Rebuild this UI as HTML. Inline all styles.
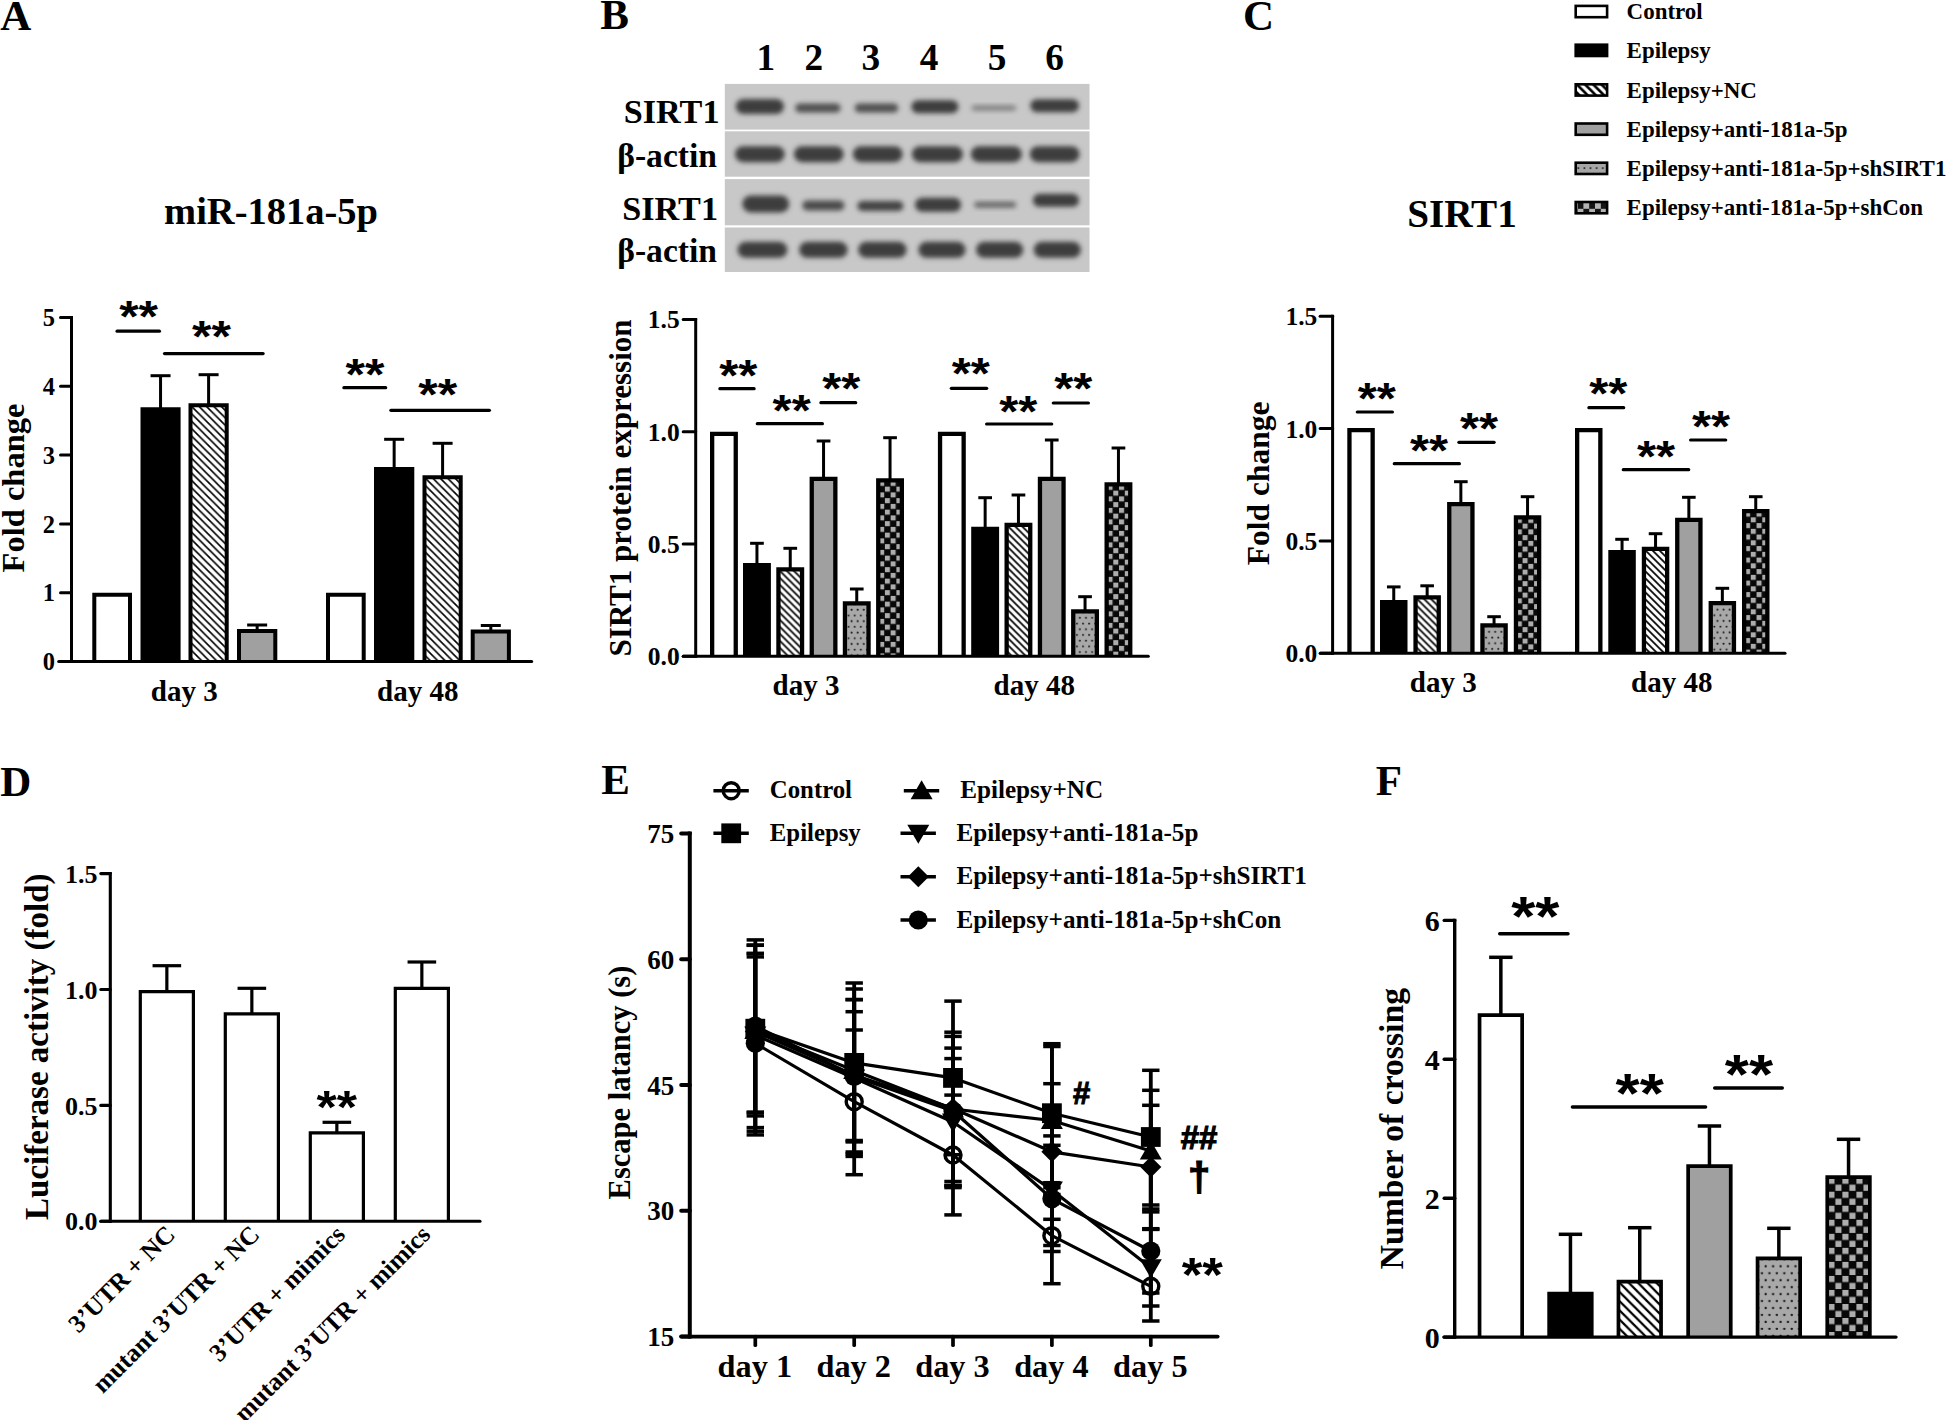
<!DOCTYPE html>
<html lang="en"><head><meta charset="utf-8"><title>Figure</title>
<style>html,body{margin:0;padding:0;background:#fff}svg{display:block}.sf{font-family:"Liberation Serif", "Times New Roman", Times, serif;font-weight:bold;fill:#000}.ss{font-family:"Liberation Sans", Arial, Helvetica, sans-serif;font-weight:bold;fill:#000}</style></head><body>
<svg width="1946" height="1420" viewBox="0 0 1946 1420">
<defs>
<pattern id="hL" width="8.2" height="8.2" patternUnits="userSpaceOnUse"><rect width="8.2" height="8.2" fill="#fff"/><path d="M-8.2 -8.2 L16.4 16.4 M0 -8.2 L16.4 8.2 M-8.2 0 L8.2 16.4" stroke="#000" stroke-width="2.6"/></pattern>
<pattern id="dB" width="6.1" height="11.4" patternUnits="userSpaceOnUse"><rect width="6.1" height="11.4" fill="#a6a6a6"/><circle cx="1.525" cy="2.85" r="1.05" fill="#222"/><circle cx="4.574999999999999" cy="8.55" r="1.05" fill="#222"/></pattern>
<pattern id="cB" width="11.6" height="11.6" patternUnits="userSpaceOnUse"><rect width="11.6" height="11.6" fill="#141414"/><rect x="0" y="0" width="5.8" height="5.8" fill="#b4b4b4"/><rect x="5.8" y="5.8" width="5.8" height="5.8" fill="#b4b4b4"/></pattern>
<filter id="bl" x="-20%" y="-60%" width="140%" height="220%"><feGaussianBlur stdDeviation="2.5"/></filter>
<filter id="bl2" x="-20%" y="-80%" width="140%" height="260%"><feGaussianBlur stdDeviation="1.8"/></filter>
</defs>
<rect width="1946" height="1420" fill="#fff"/>
<text class="sf" x="0.3" y="29.8" font-size="43" text-anchor="start">A</text>
<text class="sf" x="600.3" y="28.8" font-size="43" text-anchor="start">B</text>
<text class="sf" x="1243" y="29.7" font-size="43" text-anchor="start">C</text>
<text class="sf" x="0.3" y="795.8" font-size="43" text-anchor="start">D</text>
<text class="sf" x="601.3" y="793.8" font-size="43" text-anchor="start">E</text>
<text class="sf" x="1375.7" y="794.8" font-size="43" text-anchor="start">F</text>
<g id="panelA">
<text class="sf" x="271" y="223.9" font-size="38.5" text-anchor="middle">miR-181a-5p</text>
<path d="M94.3 661.5V594.8H130V661.5" fill="#fff" stroke="#000" stroke-width="4" stroke-linejoin="miter"/>
<line x1="160.55" y1="375.7" x2="160.55" y2="410.3" stroke="#000" stroke-width="3" stroke-linecap="butt"/>
<line x1="150.55" y1="375.7" x2="170.55" y2="375.7" stroke="#000" stroke-width="3" stroke-linecap="butt"/>
<path d="M142.5 661.5V409.3H178.6V661.5" fill="#000" stroke="#000" stroke-width="4" stroke-linejoin="miter"/>
<line x1="208.6" y1="374.7" x2="208.6" y2="406.3" stroke="#000" stroke-width="3" stroke-linecap="butt"/>
<line x1="198.6" y1="374.7" x2="218.6" y2="374.7" stroke="#000" stroke-width="3" stroke-linecap="butt"/>
<defs><pattern id="p1" x="190.5" y="405.3" width="7.4" height="7.4" patternUnits="userSpaceOnUse"><rect width="7.4" height="7.4" fill="#fff"/><path d="M-7.4 -7.4 L14.8 14.8 M0 -7.4 L14.8 7.4 M-7.4 0 L7.4 14.8" stroke="#000" stroke-width="1.6"/></pattern></defs>
<path d="M190.5 661.5V405.3H226.7V661.5" fill="url(#p1)" stroke="#000" stroke-width="4" stroke-linejoin="miter"/>
<line x1="257.15" y1="625" x2="257.15" y2="632" stroke="#000" stroke-width="3" stroke-linecap="butt"/>
<line x1="247.15" y1="625" x2="267.15" y2="625" stroke="#000" stroke-width="3" stroke-linecap="butt"/>
<path d="M239 661.5V631H275.3V661.5" fill="#a0a0a0" stroke="#000" stroke-width="4" stroke-linejoin="miter"/>
<path d="M328 661.5V594.8H363.7V661.5" fill="#fff" stroke="#000" stroke-width="4" stroke-linejoin="miter"/>
<line x1="394.15" y1="439.3" x2="394.15" y2="470" stroke="#000" stroke-width="3" stroke-linecap="butt"/>
<line x1="384.15" y1="439.3" x2="404.15" y2="439.3" stroke="#000" stroke-width="3" stroke-linecap="butt"/>
<path d="M376 661.5V469H412.3V661.5" fill="#000" stroke="#000" stroke-width="4" stroke-linejoin="miter"/>
<line x1="442.6" y1="443.3" x2="442.6" y2="478.3" stroke="#000" stroke-width="3" stroke-linecap="butt"/>
<line x1="432.6" y1="443.3" x2="452.6" y2="443.3" stroke="#000" stroke-width="3" stroke-linecap="butt"/>
<defs><pattern id="p2" x="424.5" y="477.3" width="7.4" height="7.4" patternUnits="userSpaceOnUse"><rect width="7.4" height="7.4" fill="#fff"/><path d="M-7.4 -7.4 L14.8 14.8 M0 -7.4 L14.8 7.4 M-7.4 0 L7.4 14.8" stroke="#000" stroke-width="1.6"/></pattern></defs>
<path d="M424.5 661.5V477.3H460.7V661.5" fill="url(#p2)" stroke="#000" stroke-width="4" stroke-linejoin="miter"/>
<line x1="490.8" y1="625.5" x2="490.8" y2="632.5" stroke="#000" stroke-width="3" stroke-linecap="butt"/>
<line x1="480.8" y1="625.5" x2="500.8" y2="625.5" stroke="#000" stroke-width="3" stroke-linecap="butt"/>
<path d="M472.7 661.5V631.5H508.9V661.5" fill="#a0a0a0" stroke="#000" stroke-width="4" stroke-linejoin="miter"/>
<line x1="58.7" y1="661.5" x2="531.7" y2="661.5" stroke="#000" stroke-width="3" stroke-linecap="round"/>
<line x1="71.5" y1="316" x2="71.5" y2="663" stroke="#000" stroke-width="3" stroke-linecap="butt"/>
<line x1="60.5" y1="661.5" x2="71.5" y2="661.5" stroke="#000" stroke-width="3" stroke-linecap="round"/>
<text class="sf" x="55" y="670.18" font-size="24.5" text-anchor="end">0</text>
<line x1="60.5" y1="592.7" x2="71.5" y2="592.7" stroke="#000" stroke-width="3" stroke-linecap="round"/>
<text class="sf" x="55" y="601.38" font-size="24.5" text-anchor="end">1</text>
<line x1="60.5" y1="523.9" x2="71.5" y2="523.9" stroke="#000" stroke-width="3" stroke-linecap="round"/>
<text class="sf" x="55" y="532.58" font-size="24.5" text-anchor="end">2</text>
<line x1="60.5" y1="455.1" x2="71.5" y2="455.1" stroke="#000" stroke-width="3" stroke-linecap="round"/>
<text class="sf" x="55" y="463.79" font-size="24.5" text-anchor="end">3</text>
<line x1="60.5" y1="386.3" x2="71.5" y2="386.3" stroke="#000" stroke-width="3" stroke-linecap="round"/>
<text class="sf" x="55" y="394.99" font-size="24.5" text-anchor="end">4</text>
<line x1="60.5" y1="317.5" x2="71.5" y2="317.5" stroke="#000" stroke-width="3" stroke-linecap="round"/>
<text class="sf" x="55" y="326.19" font-size="24.5" text-anchor="end">5</text>
<line x1="117.1" y1="331.2" x2="159.4" y2="331.2" stroke="#000" stroke-width="3.2" stroke-linecap="round"/>
<text class="ss" x="138.6" y="332.43" font-size="50" text-anchor="middle" transform="matrix(1 0 0 0.9 0 33.24)">**</text>
<line x1="164.5" y1="353.6" x2="263.1" y2="353.6" stroke="#000" stroke-width="3.2" stroke-linecap="round"/>
<text class="ss" x="211.5" y="352.23" font-size="50" text-anchor="middle" transform="matrix(1 0 0 0.9 0 35.22)">**</text>
<line x1="343.9" y1="387.7" x2="385.7" y2="387.7" stroke="#000" stroke-width="3.2" stroke-linecap="round"/>
<text class="ss" x="365" y="389.62" font-size="50" text-anchor="middle" transform="matrix(1 0 0 0.9 0 38.96)">**</text>
<line x1="390.9" y1="410.3" x2="489.4" y2="410.3" stroke="#000" stroke-width="3.2" stroke-linecap="round"/>
<text class="ss" x="437.7" y="409.62" font-size="50" text-anchor="middle" transform="matrix(1 0 0 0.9 0 40.96)">**</text>
<text class="sf" x="184.3" y="701" font-size="29" text-anchor="middle">day 3</text>
<text class="sf" x="417.7" y="701" font-size="29" text-anchor="middle">day 48</text>
<text class="sf" x="23.5" y="488" font-size="32.5" text-anchor="middle" transform="rotate(-90 23.5 488)">Fold change</text>
</g>
<g id="blot">
<rect x="724.8" y="83.9" width="364.7" height="45.7" fill="#c8c8c8"/>
<rect x="724.8" y="131.3" width="364.7" height="45.4" fill="#c8c8c8"/>
<rect x="724.8" y="179.1" width="364.7" height="46.2" fill="#c8c8c8"/>
<rect x="724.8" y="227.5" width="364.7" height="44.5" fill="#c8c8c8"/>
<clipPath id="c1"><rect x="724.8" y="83.9" width="364.7" height="45.7"/></clipPath>
<clipPath id="c2"><rect x="724.8" y="131.3" width="364.7" height="45.4"/></clipPath>
<clipPath id="c3"><rect x="724.8" y="179.1" width="364.7" height="46.2"/></clipPath>
<clipPath id="c4"><rect x="724.8" y="227.5" width="364.7" height="44.5"/></clipPath>
<g clip-path="url(#c1)">
<rect x="735.74" y="98.98" width="48.22" height="15" rx="7.5" ry="7.5" fill="#3e3e3e" opacity="1" filter="url(#bl)"/>
<rect x="795.23" y="103.55" width="45.34" height="9" rx="4.5" ry="4.5" fill="#484848" opacity="0.95" filter="url(#bl)"/>
<rect x="854.72" y="103.55" width="43.5" height="9" rx="4.5" ry="4.5" fill="#484848" opacity="0.95" filter="url(#bl)"/>
<rect x="911.32" y="100.24" width="47.17" height="13" rx="6.5" ry="6.5" fill="#3e3e3e" opacity="1" filter="url(#bl)"/>
<rect x="971.59" y="105.3" width="44.55" height="5.5" rx="2.75" ry="2.75" fill="#707070" opacity="0.8" filter="url(#bl)"/>
<rect x="1030.29" y="99.19" width="48.74" height="13" rx="6.5" ry="6.5" fill="#3e3e3e" opacity="1" filter="url(#bl)"/>
</g><g clip-path="url(#c2)">
<rect x="734.96" y="146.17" width="49.79" height="16" rx="8" ry="8" fill="#3e3e3e" opacity="1" filter="url(#bl)"/>
<rect x="793.92" y="146.17" width="49.79" height="16" rx="8" ry="8" fill="#3e3e3e" opacity="1" filter="url(#bl)"/>
<rect x="852.88" y="146.17" width="49.79" height="16" rx="8" ry="8" fill="#3e3e3e" opacity="1" filter="url(#bl)"/>
<rect x="911.84" y="146.17" width="51.1" height="16" rx="8" ry="8" fill="#3e3e3e" opacity="1" filter="url(#bl)"/>
<rect x="970.81" y="146.17" width="51.1" height="16" rx="8" ry="8" fill="#3e3e3e" opacity="1" filter="url(#bl)"/>
<rect x="1029.77" y="146.17" width="49.79" height="16" rx="8" ry="8" fill="#3e3e3e" opacity="1" filter="url(#bl)"/>
</g><g clip-path="url(#c3)">
<rect x="742.3" y="195.46" width="46.91" height="17" rx="8.5" ry="8.5" fill="#3e3e3e" opacity="1" filter="url(#bl)"/>
<rect x="802.31" y="200.53" width="42.19" height="10" rx="5" ry="5" fill="#444" opacity="0.95" filter="url(#bl)"/>
<rect x="857.34" y="201.06" width="46.12" height="10" rx="5" ry="5" fill="#3c3c3c" opacity="0.95" filter="url(#bl)"/>
<rect x="914.99" y="197.75" width="46.12" height="14" rx="7" ry="7" fill="#3e3e3e" opacity="1" filter="url(#bl)"/>
<rect x="974.21" y="201.75" width="41.93" height="6" rx="3" ry="3" fill="#5c5c5c" opacity="0.9" filter="url(#bl)"/>
<rect x="1032.91" y="193.79" width="46.12" height="13" rx="6.5" ry="6.5" fill="#3e3e3e" opacity="1" filter="url(#bl)"/>
</g><g clip-path="url(#c4)">
<rect x="737.58" y="241.82" width="49.79" height="16" rx="8" ry="8" fill="#3e3e3e" opacity="1" filter="url(#bl)"/>
<rect x="799.16" y="241.82" width="48.48" height="16" rx="8" ry="8" fill="#3e3e3e" opacity="1" filter="url(#bl)"/>
<rect x="858.12" y="241.82" width="48.48" height="16" rx="8" ry="8" fill="#3e3e3e" opacity="1" filter="url(#bl)"/>
<rect x="918.4" y="241.82" width="47.17" height="16" rx="8" ry="8" fill="#3e3e3e" opacity="1" filter="url(#bl)"/>
<rect x="976.05" y="241.82" width="47.17" height="16" rx="8" ry="8" fill="#3e3e3e" opacity="1" filter="url(#bl)"/>
<rect x="1033.7" y="241.82" width="47.17" height="16" rx="8" ry="8" fill="#3e3e3e" opacity="1" filter="url(#bl)"/>
</g>
<text class="sf" x="765.9" y="70" font-size="37.3" text-anchor="middle">1</text>
<text class="sf" x="813.9" y="70" font-size="37.3" text-anchor="middle">2</text>
<text class="sf" x="870.8" y="70" font-size="37.3" text-anchor="middle">3</text>
<text class="sf" x="929" y="70" font-size="37.3" text-anchor="middle">4</text>
<text class="sf" x="997" y="70" font-size="37.3" text-anchor="middle">5</text>
<text class="sf" x="1054.7" y="70" font-size="37.3" text-anchor="middle">6</text>
<text class="sf" x="719.5" y="122.7" font-size="34.2" text-anchor="end">SIRT1</text>
<text class="sf" x="717" y="166.9" font-size="33.6" text-anchor="end">β-actin</text>
<text class="sf" x="718" y="219.5" font-size="34.2" text-anchor="end">SIRT1</text>
<text class="sf" x="717" y="262.4" font-size="33.6" text-anchor="end">β-actin</text>
</g>
<g id="panelB">
<path d="M712.15 656.3V433.85H735.75V656.3" fill="#fff" stroke="#000" stroke-width="4.3" stroke-linejoin="miter"/>
<line x1="756.95" y1="543.3" x2="756.95" y2="566" stroke="#000" stroke-width="3" stroke-linecap="butt"/>
<line x1="750.1" y1="543.3" x2="763.8" y2="543.3" stroke="#000" stroke-width="3" stroke-linecap="butt"/>
<path d="M745.15 656.3V565.15H768.75V656.3" fill="#000" stroke="#000" stroke-width="4.3" stroke-linejoin="miter"/>
<line x1="790.25" y1="548.3" x2="790.25" y2="570.3" stroke="#000" stroke-width="3" stroke-linecap="butt"/>
<line x1="783.4" y1="548.3" x2="797.1" y2="548.3" stroke="#000" stroke-width="3" stroke-linecap="butt"/>
<defs><pattern id="p3" x="778.45" y="569.45" width="7.0" height="7.0" patternUnits="userSpaceOnUse"><rect width="7.0" height="7.0" fill="#fff"/><path d="M-7.0 -7.0 L14.0 14.0 M0 -7.0 L14.0 7.0 M-7.0 0 L7.0 14.0" stroke="#000" stroke-width="1.7"/></pattern></defs>
<path d="M778.45 656.3V569.45H802.05V656.3" fill="url(#p3)" stroke="#000" stroke-width="4.3" stroke-linejoin="miter"/>
<line x1="823.55" y1="441" x2="823.55" y2="479.7" stroke="#000" stroke-width="3" stroke-linecap="butt"/>
<line x1="816.7" y1="441" x2="830.4" y2="441" stroke="#000" stroke-width="3" stroke-linecap="butt"/>
<path d="M811.75 656.3V478.85H835.35V656.3" fill="#a0a0a0" stroke="#000" stroke-width="4.3" stroke-linejoin="miter"/>
<line x1="856.75" y1="589" x2="856.75" y2="604.2" stroke="#000" stroke-width="3" stroke-linecap="butt"/>
<line x1="849.9" y1="589" x2="863.6" y2="589" stroke="#000" stroke-width="3" stroke-linecap="butt"/>
<defs><pattern id="p4" x="844.95" y="603.35" width="6.1" height="11.4" patternUnits="userSpaceOnUse"><rect width="6.1" height="11.4" fill="#a8a8a8"/><circle cx="3.65" cy="0.7" r="1" fill="#1c1c1c"/><circle cx="0.6" cy="6.4" r="1" fill="#1c1c1c"/><circle cx="6.7" cy="6.4" r="1" fill="#1c1c1c"/><circle cx="3.65" cy="12.1" r="1" fill="#1c1c1c"/></pattern></defs>
<path d="M844.95 656.3V603.35H868.55V656.3" fill="url(#p4)" stroke="#000" stroke-width="4.3" stroke-linejoin="miter"/>
<line x1="890.05" y1="437.7" x2="890.05" y2="481.3" stroke="#000" stroke-width="3" stroke-linecap="butt"/>
<line x1="883.2" y1="437.7" x2="896.9" y2="437.7" stroke="#000" stroke-width="3" stroke-linecap="butt"/>
<defs><pattern id="p5" x="879.15" y="480.9" width="11.5" height="11.5" patternUnits="userSpaceOnUse"><rect width="11.5" height="11.5" fill="#080808"/><rect x="0" y="0" width="5" height="5" fill="#adadad"/><rect x="5.75" y="5.75" width="5" height="5" fill="#adadad"/></pattern></defs>
<path d="M878.25 656.3V480.45H901.85V656.3" fill="url(#p5)" stroke="#000" stroke-width="4.3" stroke-linejoin="miter"/>
<path d="M940.05 656.3V433.85H963.65V656.3" fill="#fff" stroke="#000" stroke-width="4.3" stroke-linejoin="miter"/>
<line x1="985.15" y1="497.7" x2="985.15" y2="529.7" stroke="#000" stroke-width="3" stroke-linecap="butt"/>
<line x1="978.3" y1="497.7" x2="992" y2="497.7" stroke="#000" stroke-width="3" stroke-linecap="butt"/>
<path d="M973.35 656.3V528.85H996.95V656.3" fill="#000" stroke="#000" stroke-width="4.3" stroke-linejoin="miter"/>
<line x1="1018.45" y1="495" x2="1018.45" y2="525.7" stroke="#000" stroke-width="3" stroke-linecap="butt"/>
<line x1="1011.6" y1="495" x2="1025.3" y2="495" stroke="#000" stroke-width="3" stroke-linecap="butt"/>
<defs><pattern id="p6" x="1006.65" y="524.85" width="7.0" height="7.0" patternUnits="userSpaceOnUse"><rect width="7.0" height="7.0" fill="#fff"/><path d="M-7.0 -7.0 L14.0 14.0 M0 -7.0 L14.0 7.0 M-7.0 0 L7.0 14.0" stroke="#000" stroke-width="1.7"/></pattern></defs>
<path d="M1006.65 656.3V524.85H1030.25V656.3" fill="url(#p6)" stroke="#000" stroke-width="4.3" stroke-linejoin="miter"/>
<line x1="1051.75" y1="440" x2="1051.75" y2="479.7" stroke="#000" stroke-width="3" stroke-linecap="butt"/>
<line x1="1044.9" y1="440" x2="1058.6" y2="440" stroke="#000" stroke-width="3" stroke-linecap="butt"/>
<path d="M1039.95 656.3V478.85H1063.55V656.3" fill="#a0a0a0" stroke="#000" stroke-width="4.3" stroke-linejoin="miter"/>
<line x1="1085.05" y1="596.7" x2="1085.05" y2="612.3" stroke="#000" stroke-width="3" stroke-linecap="butt"/>
<line x1="1078.2" y1="596.7" x2="1091.9" y2="596.7" stroke="#000" stroke-width="3" stroke-linecap="butt"/>
<defs><pattern id="p7" x="1073.25" y="611.45" width="6.1" height="11.4" patternUnits="userSpaceOnUse"><rect width="6.1" height="11.4" fill="#a8a8a8"/><circle cx="3.65" cy="0.7" r="1" fill="#1c1c1c"/><circle cx="0.6" cy="6.4" r="1" fill="#1c1c1c"/><circle cx="6.7" cy="6.4" r="1" fill="#1c1c1c"/><circle cx="3.65" cy="12.1" r="1" fill="#1c1c1c"/></pattern></defs>
<path d="M1073.25 656.3V611.45H1096.85V656.3" fill="url(#p7)" stroke="#000" stroke-width="4.3" stroke-linejoin="miter"/>
<line x1="1118.45" y1="448" x2="1118.45" y2="485.3" stroke="#000" stroke-width="3" stroke-linecap="butt"/>
<line x1="1111.6" y1="448" x2="1125.3" y2="448" stroke="#000" stroke-width="3" stroke-linecap="butt"/>
<defs><pattern id="p8" x="1107.55" y="484.9" width="11.5" height="11.5" patternUnits="userSpaceOnUse"><rect width="11.5" height="11.5" fill="#080808"/><rect x="0" y="0" width="5" height="5" fill="#adadad"/><rect x="5.75" y="5.75" width="5" height="5" fill="#adadad"/></pattern></defs>
<path d="M1106.65 656.3V484.45H1130.25V656.3" fill="url(#p8)" stroke="#000" stroke-width="4.3" stroke-linejoin="miter"/>
<line x1="683.3" y1="656.3" x2="1148.3" y2="656.3" stroke="#000" stroke-width="3" stroke-linecap="round"/>
<line x1="695.7" y1="317.9" x2="695.7" y2="657.8" stroke="#000" stroke-width="3" stroke-linecap="butt"/>
<line x1="683.2" y1="656.3" x2="695.7" y2="656.3" stroke="#000" stroke-width="3" stroke-linecap="round"/>
<text class="sf" x="679.7" y="665.31" font-size="25.5" text-anchor="end">0.0</text>
<line x1="683.2" y1="544" x2="695.7" y2="544" stroke="#000" stroke-width="3" stroke-linecap="round"/>
<text class="sf" x="679.7" y="553.01" font-size="25.5" text-anchor="end">0.5</text>
<line x1="683.2" y1="431.7" x2="695.7" y2="431.7" stroke="#000" stroke-width="3" stroke-linecap="round"/>
<text class="sf" x="679.7" y="440.71" font-size="25.5" text-anchor="end">1.0</text>
<line x1="683.2" y1="319.4" x2="695.7" y2="319.4" stroke="#000" stroke-width="3" stroke-linecap="round"/>
<text class="sf" x="679.7" y="328.41" font-size="25.5" text-anchor="end">1.5</text>
<line x1="719.9" y1="388.7" x2="754.1" y2="388.7" stroke="#000" stroke-width="3.2" stroke-linecap="round"/>
<text class="ss" x="738.3" y="391.03" font-size="49" text-anchor="middle" transform="matrix(1 0 0 0.9 0 39.1)">**</text>
<line x1="757.3" y1="423.7" x2="822.4" y2="423.7" stroke="#000" stroke-width="3.2" stroke-linecap="round"/>
<text class="ss" x="791.7" y="426.03" font-size="49" text-anchor="middle" transform="matrix(1 0 0 0.9 0 42.6)">**</text>
<line x1="820.9" y1="402.7" x2="855.7" y2="402.7" stroke="#000" stroke-width="3.2" stroke-linecap="round"/>
<text class="ss" x="841.3" y="404.33" font-size="49" text-anchor="middle" transform="matrix(1 0 0 0.9 0 40.43)">**</text>
<line x1="951.3" y1="388.3" x2="986.7" y2="388.3" stroke="#000" stroke-width="3.2" stroke-linecap="round"/>
<text class="ss" x="970.7" y="389.33" font-size="49" text-anchor="middle" transform="matrix(1 0 0 0.9 0 38.93)">**</text>
<line x1="986.6" y1="424" x2="1051.7" y2="424" stroke="#000" stroke-width="3.2" stroke-linecap="round"/>
<text class="ss" x="1018.3" y="426.63" font-size="49" text-anchor="middle" transform="matrix(1 0 0 0.9 0 42.66)">**</text>
<line x1="1053.3" y1="403" x2="1088.4" y2="403" stroke="#000" stroke-width="3.2" stroke-linecap="round"/>
<text class="ss" x="1073.3" y="404.33" font-size="49" text-anchor="middle" transform="matrix(1 0 0 0.9 0 40.43)">**</text>
<text class="sf" x="806" y="695" font-size="29" text-anchor="middle">day 3</text>
<text class="sf" x="1034.3" y="695" font-size="29" text-anchor="middle">day 48</text>
<text class="sf" x="631" y="488" font-size="31" text-anchor="middle" transform="rotate(-90 631 488)">SIRT1 protein expression</text>
</g>
<g id="panelC">
<text class="sf" x="1462" y="226.7" font-size="39.2" text-anchor="middle">SIRT1</text>
<path d="M1349.45 653.2V430.05H1372.65V653.2" fill="#fff" stroke="#000" stroke-width="4.3" stroke-linejoin="miter"/>
<line x1="1393.75" y1="586.9" x2="1393.75" y2="603.1" stroke="#000" stroke-width="3" stroke-linecap="butt"/>
<line x1="1386.95" y1="586.9" x2="1400.55" y2="586.9" stroke="#000" stroke-width="3" stroke-linecap="butt"/>
<path d="M1382.15 653.2V602.25H1405.35V653.2" fill="#000" stroke="#000" stroke-width="4.3" stroke-linejoin="miter"/>
<line x1="1427.15" y1="585.8" x2="1427.15" y2="598.3" stroke="#000" stroke-width="3" stroke-linecap="butt"/>
<line x1="1420.35" y1="585.8" x2="1433.95" y2="585.8" stroke="#000" stroke-width="3" stroke-linecap="butt"/>
<defs><pattern id="p9" x="1415.55" y="597.45" width="7.0" height="7.0" patternUnits="userSpaceOnUse"><rect width="7.0" height="7.0" fill="#fff"/><path d="M-7.0 -7.0 L14.0 14.0 M0 -7.0 L14.0 7.0 M-7.0 0 L7.0 14.0" stroke="#000" stroke-width="1.7"/></pattern></defs>
<path d="M1415.55 653.2V597.45H1438.75V653.2" fill="url(#p9)" stroke="#000" stroke-width="4.3" stroke-linejoin="miter"/>
<line x1="1460.85" y1="481.7" x2="1460.85" y2="505" stroke="#000" stroke-width="3" stroke-linecap="butt"/>
<line x1="1454.05" y1="481.7" x2="1467.65" y2="481.7" stroke="#000" stroke-width="3" stroke-linecap="butt"/>
<path d="M1449.25 653.2V504.15H1472.45V653.2" fill="#a0a0a0" stroke="#000" stroke-width="4.3" stroke-linejoin="miter"/>
<line x1="1494.05" y1="616.7" x2="1494.05" y2="626.3" stroke="#000" stroke-width="3" stroke-linecap="butt"/>
<line x1="1487.25" y1="616.7" x2="1500.85" y2="616.7" stroke="#000" stroke-width="3" stroke-linecap="butt"/>
<defs><pattern id="p10" x="1482.45" y="625.45" width="6.1" height="11.4" patternUnits="userSpaceOnUse"><rect width="6.1" height="11.4" fill="#a8a8a8"/><circle cx="3.65" cy="0.7" r="1" fill="#1c1c1c"/><circle cx="0.6" cy="6.4" r="1" fill="#1c1c1c"/><circle cx="6.7" cy="6.4" r="1" fill="#1c1c1c"/><circle cx="3.65" cy="12.1" r="1" fill="#1c1c1c"/></pattern></defs>
<path d="M1482.45 653.2V625.45H1505.65V653.2" fill="url(#p10)" stroke="#000" stroke-width="4.3" stroke-linejoin="miter"/>
<line x1="1527.55" y1="496.7" x2="1527.55" y2="518.3" stroke="#000" stroke-width="3" stroke-linecap="butt"/>
<line x1="1520.75" y1="496.7" x2="1534.35" y2="496.7" stroke="#000" stroke-width="3" stroke-linecap="butt"/>
<defs><pattern id="p11" x="1516.85" y="517.9" width="11.5" height="11.5" patternUnits="userSpaceOnUse"><rect width="11.5" height="11.5" fill="#080808"/><rect x="0" y="0" width="5" height="5" fill="#adadad"/><rect x="5.75" y="5.75" width="5" height="5" fill="#adadad"/></pattern></defs>
<path d="M1515.95 653.2V517.45H1539.15V653.2" fill="url(#p11)" stroke="#000" stroke-width="4.3" stroke-linejoin="miter"/>
<path d="M1577.15 653.2V430.05H1600.35V653.2" fill="#fff" stroke="#000" stroke-width="4.3" stroke-linejoin="miter"/>
<line x1="1622.05" y1="539.3" x2="1622.05" y2="553" stroke="#000" stroke-width="3" stroke-linecap="butt"/>
<line x1="1615.25" y1="539.3" x2="1628.85" y2="539.3" stroke="#000" stroke-width="3" stroke-linecap="butt"/>
<path d="M1610.45 653.2V552.15H1633.65V653.2" fill="#000" stroke="#000" stroke-width="4.3" stroke-linejoin="miter"/>
<line x1="1655.55" y1="533.7" x2="1655.55" y2="549.7" stroke="#000" stroke-width="3" stroke-linecap="butt"/>
<line x1="1648.75" y1="533.7" x2="1662.35" y2="533.7" stroke="#000" stroke-width="3" stroke-linecap="butt"/>
<defs><pattern id="p12" x="1643.95" y="548.85" width="7.0" height="7.0" patternUnits="userSpaceOnUse"><rect width="7.0" height="7.0" fill="#fff"/><path d="M-7.0 -7.0 L14.0 14.0 M0 -7.0 L14.0 7.0 M-7.0 0 L7.0 14.0" stroke="#000" stroke-width="1.7"/></pattern></defs>
<path d="M1643.95 653.2V548.85H1667.15V653.2" fill="url(#p12)" stroke="#000" stroke-width="4.3" stroke-linejoin="miter"/>
<line x1="1688.85" y1="497.3" x2="1688.85" y2="520.7" stroke="#000" stroke-width="3" stroke-linecap="butt"/>
<line x1="1682.05" y1="497.3" x2="1695.65" y2="497.3" stroke="#000" stroke-width="3" stroke-linecap="butt"/>
<path d="M1677.25 653.2V519.85H1700.45V653.2" fill="#a0a0a0" stroke="#000" stroke-width="4.3" stroke-linejoin="miter"/>
<line x1="1722.35" y1="588.3" x2="1722.35" y2="604" stroke="#000" stroke-width="3" stroke-linecap="butt"/>
<line x1="1715.55" y1="588.3" x2="1729.15" y2="588.3" stroke="#000" stroke-width="3" stroke-linecap="butt"/>
<defs><pattern id="p13" x="1710.75" y="603.15" width="6.1" height="11.4" patternUnits="userSpaceOnUse"><rect width="6.1" height="11.4" fill="#a8a8a8"/><circle cx="3.65" cy="0.7" r="1" fill="#1c1c1c"/><circle cx="0.6" cy="6.4" r="1" fill="#1c1c1c"/><circle cx="6.7" cy="6.4" r="1" fill="#1c1c1c"/><circle cx="3.65" cy="12.1" r="1" fill="#1c1c1c"/></pattern></defs>
<path d="M1710.75 653.2V603.15H1733.95V653.2" fill="url(#p13)" stroke="#000" stroke-width="4.3" stroke-linejoin="miter"/>
<line x1="1755.75" y1="496.7" x2="1755.75" y2="512" stroke="#000" stroke-width="3" stroke-linecap="butt"/>
<line x1="1748.95" y1="496.7" x2="1762.55" y2="496.7" stroke="#000" stroke-width="3" stroke-linecap="butt"/>
<defs><pattern id="p14" x="1745.05" y="511.6" width="11.5" height="11.5" patternUnits="userSpaceOnUse"><rect width="11.5" height="11.5" fill="#080808"/><rect x="0" y="0" width="5" height="5" fill="#adadad"/><rect x="5.75" y="5.75" width="5" height="5" fill="#adadad"/></pattern></defs>
<path d="M1744.15 653.2V511.15H1767.35V653.2" fill="url(#p14)" stroke="#000" stroke-width="4.3" stroke-linejoin="miter"/>
<line x1="1320.7" y1="653.2" x2="1785" y2="653.2" stroke="#000" stroke-width="3" stroke-linecap="round"/>
<line x1="1332.6" y1="314.8" x2="1332.6" y2="654.7" stroke="#000" stroke-width="3" stroke-linecap="butt"/>
<line x1="1320.1" y1="653.2" x2="1332.6" y2="653.2" stroke="#000" stroke-width="3" stroke-linecap="round"/>
<text class="sf" x="1317.3" y="662.22" font-size="25.5" text-anchor="end">0.0</text>
<line x1="1320.1" y1="540.9" x2="1332.6" y2="540.9" stroke="#000" stroke-width="3" stroke-linecap="round"/>
<text class="sf" x="1317.3" y="549.92" font-size="25.5" text-anchor="end">0.5</text>
<line x1="1320.1" y1="428.6" x2="1332.6" y2="428.6" stroke="#000" stroke-width="3" stroke-linecap="round"/>
<text class="sf" x="1317.3" y="437.62" font-size="25.5" text-anchor="end">1.0</text>
<line x1="1320.1" y1="316.3" x2="1332.6" y2="316.3" stroke="#000" stroke-width="3" stroke-linecap="round"/>
<text class="sf" x="1317.3" y="325.32" font-size="25.5" text-anchor="end">1.5</text>
<line x1="1357.3" y1="412" x2="1392.4" y2="412" stroke="#000" stroke-width="3.2" stroke-linecap="round"/>
<text class="ss" x="1376.7" y="414.33" font-size="49" text-anchor="middle" transform="matrix(1 0 0 0.9 0 41.43)">**</text>
<line x1="1394.3" y1="463.7" x2="1459.4" y2="463.7" stroke="#000" stroke-width="3.2" stroke-linecap="round"/>
<text class="ss" x="1429" y="466.03" font-size="49" text-anchor="middle" transform="matrix(1 0 0 0.9 0 46.6)">**</text>
<line x1="1458.9" y1="442.3" x2="1494.1" y2="442.3" stroke="#000" stroke-width="3.2" stroke-linecap="round"/>
<text class="ss" x="1479" y="443.63" font-size="49" text-anchor="middle" transform="matrix(1 0 0 0.9 0 44.36)">**</text>
<line x1="1588.9" y1="407.7" x2="1623.7" y2="407.7" stroke="#000" stroke-width="3.2" stroke-linecap="round"/>
<text class="ss" x="1608.3" y="409.33" font-size="49" text-anchor="middle" transform="matrix(1 0 0 0.9 0 40.93)">**</text>
<line x1="1623.3" y1="469.7" x2="1688.7" y2="469.7" stroke="#000" stroke-width="3.2" stroke-linecap="round"/>
<text class="ss" x="1656" y="471.63" font-size="49" text-anchor="middle" transform="matrix(1 0 0 0.9 0 47.16)">**</text>
<line x1="1690.6" y1="440" x2="1725.7" y2="440" stroke="#000" stroke-width="3.2" stroke-linecap="round"/>
<text class="ss" x="1711" y="441.63" font-size="49" text-anchor="middle" transform="matrix(1 0 0 0.9 0 44.16)">**</text>
<text class="sf" x="1443.3" y="691.7" font-size="29" text-anchor="middle">day 3</text>
<text class="sf" x="1671.7" y="691.7" font-size="29" text-anchor="middle">day 48</text>
<text class="sf" x="1269" y="483.3" font-size="31.5" text-anchor="middle" transform="rotate(-90 1269 483.3)">Fold change</text>
<rect x="1575.7" y="5.9" width="31.4" height="11.3" fill="#fff" stroke="#000" stroke-width="2.6"/>
<text class="sf" x="1626.6" y="19.2" font-size="22.95" text-anchor="start">Control</text>
<rect x="1575.7" y="44.7" width="31.4" height="11.3" fill="#000" stroke="#000" stroke-width="2.6"/>
<text class="sf" x="1626.6" y="58" font-size="22.95" text-anchor="start">Epilepsy</text>
<rect x="1575.7" y="84.3" width="31.4" height="11.3" fill="url(#hL)" stroke="#000" stroke-width="2.6"/>
<text class="sf" x="1626.6" y="97.6" font-size="22.95" text-anchor="start">Epilepsy+NC</text>
<rect x="1575.7" y="123.5" width="31.4" height="11.3" fill="#a0a0a0" stroke="#000" stroke-width="2.6"/>
<text class="sf" x="1626.6" y="136.8" font-size="22.95" text-anchor="start">Epilepsy+anti-181a-5p</text>
<rect x="1575.7" y="162.7" width="31.4" height="11.3" fill="url(#dB)" stroke="#000" stroke-width="2.6"/>
<text class="sf" x="1626.6" y="176" font-size="22.95" text-anchor="start">Epilepsy+anti-181a-5p+shSIRT1</text>
<rect x="1575.7" y="202" width="31.4" height="11.3" fill="url(#cB)" stroke="#000" stroke-width="2.6"/>
<text class="sf" x="1626.6" y="215.3" font-size="22.95" text-anchor="start">Epilepsy+anti-181a-5p+shCon</text>
</g>
<g id="panelD">
<line x1="166.85" y1="965.7" x2="166.85" y2="992" stroke="#000" stroke-width="3.2" stroke-linecap="butt"/>
<line x1="152.55" y1="965.7" x2="181.15" y2="965.7" stroke="#000" stroke-width="3.2" stroke-linecap="butt"/>
<path d="M140.3 1221.3V991.6H193.4V1221.3" fill="#fff" stroke="#000" stroke-width="3.2" stroke-linejoin="miter"/>
<line x1="251.85" y1="988.3" x2="251.85" y2="1014.3" stroke="#000" stroke-width="3.2" stroke-linecap="butt"/>
<line x1="237.55" y1="988.3" x2="266.15" y2="988.3" stroke="#000" stroke-width="3.2" stroke-linecap="butt"/>
<path d="M225.3 1221.3V1013.9H278.4V1221.3" fill="#fff" stroke="#000" stroke-width="3.2" stroke-linejoin="miter"/>
<line x1="336.85" y1="1122.3" x2="336.85" y2="1133.3" stroke="#000" stroke-width="3.2" stroke-linecap="butt"/>
<line x1="322.55" y1="1122.3" x2="351.15" y2="1122.3" stroke="#000" stroke-width="3.2" stroke-linecap="butt"/>
<path d="M310.3 1221.3V1132.9H363.4V1221.3" fill="#fff" stroke="#000" stroke-width="3.2" stroke-linejoin="miter"/>
<line x1="421.85" y1="962" x2="421.85" y2="988.7" stroke="#000" stroke-width="3.2" stroke-linecap="butt"/>
<line x1="407.55" y1="962" x2="436.15" y2="962" stroke="#000" stroke-width="3.2" stroke-linecap="butt"/>
<path d="M395.3 1221.3V988.3H448.4V1221.3" fill="#fff" stroke="#000" stroke-width="3.2" stroke-linejoin="miter"/>
<line x1="100.8" y1="1221.3" x2="480" y2="1221.3" stroke="#000" stroke-width="3.1" stroke-linecap="round"/>
<line x1="110.3" y1="872.05" x2="110.3" y2="1222.85" stroke="#000" stroke-width="3.1" stroke-linecap="butt"/>
<line x1="100.8" y1="1221.3" x2="110.3" y2="1221.3" stroke="#000" stroke-width="3.1" stroke-linecap="round"/>
<text class="sf" x="97.5" y="1230.48" font-size="26" text-anchor="end">0.0</text>
<line x1="100.8" y1="1105.4" x2="110.3" y2="1105.4" stroke="#000" stroke-width="3.1" stroke-linecap="round"/>
<text class="sf" x="97.5" y="1114.58" font-size="26" text-anchor="end">0.5</text>
<line x1="100.8" y1="989.5" x2="110.3" y2="989.5" stroke="#000" stroke-width="3.1" stroke-linecap="round"/>
<text class="sf" x="97.5" y="998.68" font-size="26" text-anchor="end">1.0</text>
<line x1="100.8" y1="873.6" x2="110.3" y2="873.6" stroke="#000" stroke-width="3.1" stroke-linecap="round"/>
<text class="sf" x="97.5" y="882.78" font-size="26" text-anchor="end">1.5</text>
<text class="ss" x="336.7" y="1123.01" font-size="52" text-anchor="middle" transform="matrix(1 0 0 0.9 0 112.3)">**</text>
<text class="sf" x="48.5" y="1046.7" font-size="33" text-anchor="middle" transform="rotate(-90 48.5 1046.7)">Luciferase activity (fold)</text>
<text class="sf" x="176.5" y="1236" font-size="25.4" text-anchor="end" transform="rotate(-45 176.5 1236)">3’UTR + NC</text>
<text class="sf" x="261" y="1236" font-size="25.4" text-anchor="end" transform="rotate(-45 261 1236)">mutant 3’UTR + NC</text>
<text class="sf" x="346.5" y="1236" font-size="25.4" text-anchor="end" transform="rotate(-45 346.5 1236)">3’UTR + mimics</text>
<text class="sf" x="431.8" y="1236" font-size="25.4" text-anchor="end" transform="rotate(-45 431.8 1236)">mutant 3’UTR + mimics</text>
</g>
<g id="panelE">
<line x1="755.3" y1="953.5" x2="755.3" y2="1134.9" stroke="#000" stroke-width="3.8" stroke-linecap="butt"/>
<line x1="746.6" y1="953.5" x2="764" y2="953.5" stroke="#000" stroke-width="3.5" stroke-linecap="butt"/>
<line x1="746.6" y1="1134.9" x2="764" y2="1134.9" stroke="#000" stroke-width="3.5" stroke-linecap="butt"/>
<line x1="854.2" y1="1030" x2="854.2" y2="1174.7" stroke="#000" stroke-width="3.8" stroke-linecap="butt"/>
<line x1="845.5" y1="1030" x2="862.9" y2="1030" stroke="#000" stroke-width="3.5" stroke-linecap="butt"/>
<line x1="845.5" y1="1174.7" x2="862.9" y2="1174.7" stroke="#000" stroke-width="3.5" stroke-linecap="butt"/>
<line x1="953" y1="1095.1" x2="953" y2="1214.9" stroke="#000" stroke-width="3.8" stroke-linecap="butt"/>
<line x1="944.3" y1="1095.1" x2="961.7" y2="1095.1" stroke="#000" stroke-width="3.5" stroke-linecap="butt"/>
<line x1="944.3" y1="1214.9" x2="961.7" y2="1214.9" stroke="#000" stroke-width="3.5" stroke-linecap="butt"/>
<line x1="1051.9" y1="1187.7" x2="1051.9" y2="1283.7" stroke="#000" stroke-width="3.8" stroke-linecap="butt"/>
<line x1="1043.2" y1="1187.7" x2="1060.6" y2="1187.7" stroke="#000" stroke-width="3.5" stroke-linecap="butt"/>
<line x1="1043.2" y1="1283.7" x2="1060.6" y2="1283.7" stroke="#000" stroke-width="3.5" stroke-linecap="butt"/>
<line x1="1150.8" y1="1251.6" x2="1150.8" y2="1321" stroke="#000" stroke-width="3.8" stroke-linecap="butt"/>
<line x1="1142.1" y1="1251.6" x2="1159.5" y2="1251.6" stroke="#000" stroke-width="3.5" stroke-linecap="butt"/>
<line x1="1142.1" y1="1321" x2="1159.5" y2="1321" stroke="#000" stroke-width="3.5" stroke-linecap="butt"/>
<line x1="755.3" y1="945.3" x2="755.3" y2="1112.7" stroke="#000" stroke-width="3.8" stroke-linecap="butt"/>
<line x1="746.6" y1="945.3" x2="764" y2="945.3" stroke="#000" stroke-width="3.5" stroke-linecap="butt"/>
<line x1="746.6" y1="1112.7" x2="764" y2="1112.7" stroke="#000" stroke-width="3.5" stroke-linecap="butt"/>
<line x1="854.2" y1="983" x2="854.2" y2="1141.9" stroke="#000" stroke-width="3.8" stroke-linecap="butt"/>
<line x1="845.5" y1="983" x2="862.9" y2="983" stroke="#000" stroke-width="3.5" stroke-linecap="butt"/>
<line x1="845.5" y1="1141.9" x2="862.9" y2="1141.9" stroke="#000" stroke-width="3.5" stroke-linecap="butt"/>
<line x1="953" y1="1001.1" x2="953" y2="1154.7" stroke="#000" stroke-width="3.8" stroke-linecap="butt"/>
<line x1="944.3" y1="1001.1" x2="961.7" y2="1001.1" stroke="#000" stroke-width="3.5" stroke-linecap="butt"/>
<line x1="944.3" y1="1154.7" x2="961.7" y2="1154.7" stroke="#000" stroke-width="3.5" stroke-linecap="butt"/>
<line x1="1051.9" y1="1043.7" x2="1051.9" y2="1182.7" stroke="#000" stroke-width="3.8" stroke-linecap="butt"/>
<line x1="1043.2" y1="1043.7" x2="1060.6" y2="1043.7" stroke="#000" stroke-width="3.5" stroke-linecap="butt"/>
<line x1="1043.2" y1="1182.7" x2="1060.6" y2="1182.7" stroke="#000" stroke-width="3.5" stroke-linecap="butt"/>
<line x1="1150.8" y1="1070.3" x2="1150.8" y2="1205" stroke="#000" stroke-width="3.8" stroke-linecap="butt"/>
<line x1="1142.1" y1="1070.3" x2="1159.5" y2="1070.3" stroke="#000" stroke-width="3.5" stroke-linecap="butt"/>
<line x1="1142.1" y1="1205" x2="1159.5" y2="1205" stroke="#000" stroke-width="3.5" stroke-linecap="butt"/>
<line x1="755.3" y1="945.1" x2="755.3" y2="1115.9" stroke="#000" stroke-width="3.8" stroke-linecap="butt"/>
<line x1="746.6" y1="945.1" x2="764" y2="945.1" stroke="#000" stroke-width="3.5" stroke-linecap="butt"/>
<line x1="746.6" y1="1115.9" x2="764" y2="1115.9" stroke="#000" stroke-width="3.5" stroke-linecap="butt"/>
<line x1="854.2" y1="989" x2="854.2" y2="1152" stroke="#000" stroke-width="3.8" stroke-linecap="butt"/>
<line x1="845.5" y1="989" x2="862.9" y2="989" stroke="#000" stroke-width="3.5" stroke-linecap="butt"/>
<line x1="845.5" y1="1152" x2="862.9" y2="1152" stroke="#000" stroke-width="3.5" stroke-linecap="butt"/>
<line x1="953" y1="1032.2" x2="953" y2="1185.8" stroke="#000" stroke-width="3.8" stroke-linecap="butt"/>
<line x1="944.3" y1="1032.2" x2="961.7" y2="1032.2" stroke="#000" stroke-width="3.5" stroke-linecap="butt"/>
<line x1="944.3" y1="1185.8" x2="961.7" y2="1185.8" stroke="#000" stroke-width="3.5" stroke-linecap="butt"/>
<line x1="1051.9" y1="1046.5" x2="1051.9" y2="1194.5" stroke="#000" stroke-width="3.8" stroke-linecap="butt"/>
<line x1="1043.2" y1="1046.5" x2="1060.6" y2="1046.5" stroke="#000" stroke-width="3.5" stroke-linecap="butt"/>
<line x1="1043.2" y1="1194.5" x2="1060.6" y2="1194.5" stroke="#000" stroke-width="3.5" stroke-linecap="butt"/>
<line x1="1150.8" y1="1090.3" x2="1150.8" y2="1211.9" stroke="#000" stroke-width="3.8" stroke-linecap="butt"/>
<line x1="1142.1" y1="1090.3" x2="1159.5" y2="1090.3" stroke="#000" stroke-width="3.5" stroke-linecap="butt"/>
<line x1="1142.1" y1="1211.9" x2="1159.5" y2="1211.9" stroke="#000" stroke-width="3.5" stroke-linecap="butt"/>
<line x1="755.3" y1="956.9" x2="755.3" y2="1127.6" stroke="#000" stroke-width="3.8" stroke-linecap="butt"/>
<line x1="746.6" y1="956.9" x2="764" y2="956.9" stroke="#000" stroke-width="3.5" stroke-linecap="butt"/>
<line x1="746.6" y1="1127.6" x2="764" y2="1127.6" stroke="#000" stroke-width="3.5" stroke-linecap="butt"/>
<line x1="854.2" y1="999.6" x2="854.2" y2="1156.4" stroke="#000" stroke-width="3.8" stroke-linecap="butt"/>
<line x1="845.5" y1="999.6" x2="862.9" y2="999.6" stroke="#000" stroke-width="3.5" stroke-linecap="butt"/>
<line x1="845.5" y1="1156.4" x2="862.9" y2="1156.4" stroke="#000" stroke-width="3.5" stroke-linecap="butt"/>
<line x1="953" y1="1058.6" x2="953" y2="1185.4" stroke="#000" stroke-width="3.8" stroke-linecap="butt"/>
<line x1="944.3" y1="1058.6" x2="961.7" y2="1058.6" stroke="#000" stroke-width="3.5" stroke-linecap="butt"/>
<line x1="944.3" y1="1185.4" x2="961.7" y2="1185.4" stroke="#000" stroke-width="3.5" stroke-linecap="butt"/>
<line x1="1051.9" y1="1135.9" x2="1051.9" y2="1245.5" stroke="#000" stroke-width="3.8" stroke-linecap="butt"/>
<line x1="1043.2" y1="1135.9" x2="1060.6" y2="1135.9" stroke="#000" stroke-width="3.5" stroke-linecap="butt"/>
<line x1="1043.2" y1="1245.5" x2="1060.6" y2="1245.5" stroke="#000" stroke-width="3.5" stroke-linecap="butt"/>
<line x1="1150.8" y1="1229.4" x2="1150.8" y2="1306" stroke="#000" stroke-width="3.8" stroke-linecap="butt"/>
<line x1="1142.1" y1="1229.4" x2="1159.5" y2="1229.4" stroke="#000" stroke-width="3.5" stroke-linecap="butt"/>
<line x1="1142.1" y1="1306" x2="1159.5" y2="1306" stroke="#000" stroke-width="3.5" stroke-linecap="butt"/>
<line x1="755.3" y1="953.5" x2="755.3" y2="1131.2" stroke="#000" stroke-width="3.8" stroke-linecap="butt"/>
<line x1="746.6" y1="953.5" x2="764" y2="953.5" stroke="#000" stroke-width="3.5" stroke-linecap="butt"/>
<line x1="746.6" y1="1131.2" x2="764" y2="1131.2" stroke="#000" stroke-width="3.5" stroke-linecap="butt"/>
<line x1="854.2" y1="1011.7" x2="854.2" y2="1140.5" stroke="#000" stroke-width="3.8" stroke-linecap="butt"/>
<line x1="845.5" y1="1011.7" x2="862.9" y2="1011.7" stroke="#000" stroke-width="3.5" stroke-linecap="butt"/>
<line x1="845.5" y1="1140.5" x2="862.9" y2="1140.5" stroke="#000" stroke-width="3.5" stroke-linecap="butt"/>
<line x1="953" y1="1036.4" x2="953" y2="1181.5" stroke="#000" stroke-width="3.8" stroke-linecap="butt"/>
<line x1="944.3" y1="1036.4" x2="961.7" y2="1036.4" stroke="#000" stroke-width="3.5" stroke-linecap="butt"/>
<line x1="944.3" y1="1181.5" x2="961.7" y2="1181.5" stroke="#000" stroke-width="3.5" stroke-linecap="butt"/>
<line x1="1051.9" y1="1083.7" x2="1051.9" y2="1219.3" stroke="#000" stroke-width="3.8" stroke-linecap="butt"/>
<line x1="1043.2" y1="1083.7" x2="1060.6" y2="1083.7" stroke="#000" stroke-width="3.5" stroke-linecap="butt"/>
<line x1="1043.2" y1="1219.3" x2="1060.6" y2="1219.3" stroke="#000" stroke-width="3.5" stroke-linecap="butt"/>
<line x1="1150.8" y1="1105.3" x2="1150.8" y2="1228.7" stroke="#000" stroke-width="3.8" stroke-linecap="butt"/>
<line x1="1142.1" y1="1105.3" x2="1159.5" y2="1105.3" stroke="#000" stroke-width="3.5" stroke-linecap="butt"/>
<line x1="1142.1" y1="1228.7" x2="1159.5" y2="1228.7" stroke="#000" stroke-width="3.5" stroke-linecap="butt"/>
<line x1="755.3" y1="939.9" x2="755.3" y2="1112.1" stroke="#000" stroke-width="3.8" stroke-linecap="butt"/>
<line x1="746.6" y1="939.9" x2="764" y2="939.9" stroke="#000" stroke-width="3.5" stroke-linecap="butt"/>
<line x1="746.6" y1="1112.1" x2="764" y2="1112.1" stroke="#000" stroke-width="3.5" stroke-linecap="butt"/>
<line x1="854.2" y1="999.6" x2="854.2" y2="1154" stroke="#000" stroke-width="3.8" stroke-linecap="butt"/>
<line x1="845.5" y1="999.6" x2="862.9" y2="999.6" stroke="#000" stroke-width="3.5" stroke-linecap="butt"/>
<line x1="845.5" y1="1154" x2="862.9" y2="1154" stroke="#000" stroke-width="3.5" stroke-linecap="butt"/>
<line x1="953" y1="1048.1" x2="953" y2="1187.6" stroke="#000" stroke-width="3.8" stroke-linecap="butt"/>
<line x1="944.3" y1="1048.1" x2="961.7" y2="1048.1" stroke="#000" stroke-width="3.5" stroke-linecap="butt"/>
<line x1="944.3" y1="1187.6" x2="961.7" y2="1187.6" stroke="#000" stroke-width="3.5" stroke-linecap="butt"/>
<line x1="1051.9" y1="1145.3" x2="1051.9" y2="1251.5" stroke="#000" stroke-width="3.8" stroke-linecap="butt"/>
<line x1="1043.2" y1="1145.3" x2="1060.6" y2="1145.3" stroke="#000" stroke-width="3.5" stroke-linecap="butt"/>
<line x1="1043.2" y1="1251.5" x2="1060.6" y2="1251.5" stroke="#000" stroke-width="3.5" stroke-linecap="butt"/>
<line x1="1150.8" y1="1209" x2="1150.8" y2="1293" stroke="#000" stroke-width="3.8" stroke-linecap="butt"/>
<line x1="1142.1" y1="1209" x2="1159.5" y2="1209" stroke="#000" stroke-width="3.5" stroke-linecap="butt"/>
<line x1="1142.1" y1="1293" x2="1159.5" y2="1293" stroke="#000" stroke-width="3.5" stroke-linecap="butt"/>
<polyline points="755.3,1043.3 854.2,1101.7 953,1155 1051.9,1235.7 1150.8,1286.3" fill="none" stroke="#000" stroke-width="3.2" stroke-linejoin="round"/>
<polyline points="755.3,1028.7 854.2,1062.9 953,1077.9 1051.9,1113.2 1150.8,1137" fill="none" stroke="#000" stroke-width="3.2" stroke-linejoin="round"/>
<polyline points="755.3,1030.5 854.2,1070.5 953,1109 1051.9,1120.5 1150.8,1151" fill="none" stroke="#000" stroke-width="3.2" stroke-linejoin="round"/>
<polyline points="755.3,1035 854.2,1078 953,1122 1051.9,1190 1150.8,1267.7" fill="none" stroke="#000" stroke-width="3.2" stroke-linejoin="round"/>
<polyline points="755.3,1031.5 854.2,1075 953,1108.5 1051.9,1151.8 1150.8,1167" fill="none" stroke="#000" stroke-width="3.2" stroke-linejoin="round"/>
<polyline points="755.3,1026 854.2,1076.5 953,1111 1051.9,1198.8 1150.8,1251" fill="none" stroke="#000" stroke-width="3.2" stroke-linejoin="round"/>
<circle cx="755.3" cy="1043.3" r="9.6" fill="#000"/>
<circle cx="854.2" cy="1101.7" r="8" fill="none" stroke="#000" stroke-width="3.4"/>
<circle cx="953" cy="1155" r="8" fill="none" stroke="#000" stroke-width="3.4"/>
<circle cx="1051.9" cy="1235.7" r="8" fill="none" stroke="#000" stroke-width="3.4"/>
<circle cx="1150.8" cy="1286.3" r="8" fill="none" stroke="#000" stroke-width="3.4"/>
<rect x="745.4" y="1018.8" width="19.8" height="19.8" fill="#000"/>
<rect x="844.3" y="1053" width="19.8" height="19.8" fill="#000"/>
<rect x="943.1" y="1068" width="19.8" height="19.8" fill="#000"/>
<rect x="1042" y="1103.3" width="19.8" height="19.8" fill="#000"/>
<rect x="1140.9" y="1127.1" width="19.8" height="19.8" fill="#000"/>
<path d="M755.3 1020 L766.3 1039 L744.3 1039 Z" fill="#000"/>
<path d="M854.2 1060 L865.2 1079 L843.2 1079 Z" fill="#000"/>
<path d="M953 1098.5 L964 1117.5 L942 1117.5 Z" fill="#000"/>
<path d="M1051.9 1110 L1062.9 1129 L1040.9 1129 Z" fill="#000"/>
<path d="M1150.8 1140.5 L1161.8 1159.5 L1139.8 1159.5 Z" fill="#000"/>
<path d="M755.3 1045.5 L766.3 1026.5 L744.3 1026.5 Z" fill="#000"/>
<path d="M854.2 1088.5 L865.2 1069.5 L843.2 1069.5 Z" fill="#000"/>
<path d="M953 1132.5 L964 1113.5 L942 1113.5 Z" fill="#000"/>
<path d="M1051.9 1200.5 L1062.9 1181.5 L1040.9 1181.5 Z" fill="#000"/>
<path d="M1150.8 1278.2 L1161.8 1259.2 L1139.8 1259.2 Z" fill="#000"/>
<path d="M755.3 1021 L765.8 1031.5 L755.3 1042 L744.8 1031.5 Z" fill="#000"/>
<path d="M854.2 1064.5 L864.7 1075 L854.2 1085.5 L843.7 1075 Z" fill="#000"/>
<path d="M953 1098 L963.5 1108.5 L953 1119 L942.5 1108.5 Z" fill="#000"/>
<path d="M1051.9 1141.3 L1062.4 1151.8 L1051.9 1162.3 L1041.4 1151.8 Z" fill="#000"/>
<path d="M1150.8 1156.5 L1161.3 1167 L1150.8 1177.5 L1140.3 1167 Z" fill="#000"/>
<circle cx="755.3" cy="1026" r="9.6" fill="#000"/>
<circle cx="854.2" cy="1076.5" r="9.6" fill="#000"/>
<circle cx="953" cy="1111" r="9.6" fill="#000"/>
<circle cx="1051.9" cy="1198.8" r="9.6" fill="#000"/>
<circle cx="1150.8" cy="1251" r="9.6" fill="#000"/>
<line x1="681.3" y1="1336.6" x2="1217.7" y2="1336.6" stroke="#000" stroke-width="3.7" stroke-linecap="round"/>
<line x1="755.3" y1="1336.6" x2="755.3" y2="1345.2" stroke="#000" stroke-width="3.7" stroke-linecap="round"/>
<line x1="854.2" y1="1336.6" x2="854.2" y2="1345.2" stroke="#000" stroke-width="3.7" stroke-linecap="round"/>
<line x1="953" y1="1336.6" x2="953" y2="1345.2" stroke="#000" stroke-width="3.7" stroke-linecap="round"/>
<line x1="1051.9" y1="1336.6" x2="1051.9" y2="1345.2" stroke="#000" stroke-width="3.7" stroke-linecap="round"/>
<line x1="1150.8" y1="1336.6" x2="1150.8" y2="1345.2" stroke="#000" stroke-width="3.7" stroke-linecap="round"/>
<line x1="689.8" y1="831.38" x2="689.8" y2="1338.6" stroke="#000" stroke-width="4" stroke-linecap="butt"/>
<line x1="681.2" y1="1336.6" x2="689.8" y2="1336.6" stroke="#000" stroke-width="4" stroke-linecap="round"/>
<text class="sf" x="674.3" y="1346.3" font-size="27" text-anchor="end">15</text>
<line x1="681.2" y1="1210.79" x2="689.8" y2="1210.79" stroke="#000" stroke-width="4" stroke-linecap="round"/>
<text class="sf" x="674.3" y="1220.49" font-size="27" text-anchor="end">30</text>
<line x1="681.2" y1="1084.99" x2="689.8" y2="1084.99" stroke="#000" stroke-width="4" stroke-linecap="round"/>
<text class="sf" x="674.3" y="1094.69" font-size="27" text-anchor="end">45</text>
<line x1="681.2" y1="959.18" x2="689.8" y2="959.18" stroke="#000" stroke-width="4" stroke-linecap="round"/>
<text class="sf" x="674.3" y="968.88" font-size="27" text-anchor="end">60</text>
<line x1="681.2" y1="833.38" x2="689.8" y2="833.38" stroke="#000" stroke-width="4" stroke-linecap="round"/>
<text class="sf" x="674.3" y="843.08" font-size="27" text-anchor="end">75</text>
<text class="sf" x="754.8" y="1377.2" font-size="32.3" text-anchor="middle">day 1</text>
<text class="sf" x="853.7" y="1377.2" font-size="32.3" text-anchor="middle">day 2</text>
<text class="sf" x="952.5" y="1377.2" font-size="32.3" text-anchor="middle">day 3</text>
<text class="sf" x="1051.4" y="1377.2" font-size="32.3" text-anchor="middle">day 4</text>
<text class="sf" x="1150.3" y="1377.2" font-size="32.3" text-anchor="middle">day 5</text>
<text class="sf" x="629.5" y="1082.5" font-size="30.5" text-anchor="middle" transform="rotate(-90 629.5 1082.5)">Escape latancy (s)</text>
<text class="ss" x="1081.7" y="1104" font-size="31" text-anchor="middle" stroke="#000" stroke-width="1.1">#</text>
<text class="ss" x="1199" y="1148.5" font-size="33" text-anchor="middle" stroke="#000" stroke-width="1.1">##</text>
<text class="ss" x="1199" y="1191" font-size="40" text-anchor="middle" stroke="#000" stroke-width="1.2">†</text>
<text class="ss" x="1202.3" y="1291" font-size="53" text-anchor="middle" transform="matrix(1 0 0 0.9 0 129.1)">**</text>
<line x1="713.4" y1="790.7" x2="748.8" y2="790.7" stroke="#000" stroke-width="3.4" stroke-linecap="butt"/>
<circle cx="731.2" cy="790.7" r="8" fill="none" stroke="#000" stroke-width="3.4"/>
<text class="sf" x="769.8" y="798.4" font-size="24.8" text-anchor="start">Control</text>
<line x1="713.4" y1="833.3" x2="748.8" y2="833.3" stroke="#000" stroke-width="3.4" stroke-linecap="butt"/>
<rect x="721.3" y="823.4" width="19.8" height="19.8" fill="#000"/>
<text class="sf" x="769.8" y="841" font-size="24.8" text-anchor="start">Epilepsy</text>
<line x1="903.8" y1="790.7" x2="939.2" y2="790.7" stroke="#000" stroke-width="3.4" stroke-linecap="butt"/>
<path d="M921.6 780.2 L932.6 799.2 L910.6 799.2 Z" fill="#000"/>
<text class="sf" x="960.2" y="798.4" font-size="25.15" text-anchor="start">Epilepsy+NC</text>
<line x1="900.5" y1="833.3" x2="935.9" y2="833.3" stroke="#000" stroke-width="3.4" stroke-linecap="butt"/>
<path d="M918.3 843.8 L929.3 824.8 L907.3 824.8 Z" fill="#000"/>
<text class="sf" x="956.4" y="841" font-size="25.15" text-anchor="start">Epilepsy+anti-181a-5p</text>
<line x1="900.5" y1="876.7" x2="935.9" y2="876.7" stroke="#000" stroke-width="3.4" stroke-linecap="butt"/>
<path d="M918.3 866.2 L928.8 876.7 L918.3 887.2 L907.8 876.7 Z" fill="#000"/>
<text class="sf" x="956.4" y="884.4" font-size="25.15" text-anchor="start">Epilepsy+anti-181a-5p+shSIRT1</text>
<line x1="900.5" y1="920" x2="935.9" y2="920" stroke="#000" stroke-width="3.4" stroke-linecap="butt"/>
<circle cx="918.3" cy="920" r="9.6" fill="#000"/>
<text class="sf" x="956.4" y="927.7" font-size="25.15" text-anchor="start">Epilepsy+anti-181a-5p+shCon</text>
</g>
<g id="panelF">
<line x1="1500.85" y1="957.3" x2="1500.85" y2="1015.3" stroke="#000" stroke-width="3.5" stroke-linecap="butt"/>
<line x1="1489.15" y1="957.3" x2="1512.55" y2="957.3" stroke="#000" stroke-width="3.5" stroke-linecap="butt"/>
<path d="M1479.55 1337.1V1015.15H1522.15V1337.1" fill="#fff" stroke="#000" stroke-width="3.7" stroke-linejoin="miter"/>
<line x1="1570.45" y1="1234.3" x2="1570.45" y2="1293.7" stroke="#000" stroke-width="3.5" stroke-linecap="butt"/>
<line x1="1558.75" y1="1234.3" x2="1582.15" y2="1234.3" stroke="#000" stroke-width="3.5" stroke-linecap="butt"/>
<path d="M1549.15 1337.1V1293.55H1591.75V1337.1" fill="#000" stroke="#000" stroke-width="3.7" stroke-linejoin="miter"/>
<line x1="1639.75" y1="1227.7" x2="1639.75" y2="1281.8" stroke="#000" stroke-width="3.5" stroke-linecap="butt"/>
<line x1="1628.05" y1="1227.7" x2="1651.45" y2="1227.7" stroke="#000" stroke-width="3.5" stroke-linecap="butt"/>
<defs><pattern id="p15" x="1618.45" y="1281.65" width="9.2" height="9.2" patternUnits="userSpaceOnUse"><rect width="9.2" height="9.2" fill="#fff"/><path d="M-9.2 -9.2 L18.4 18.4 M0 -9.2 L18.4 9.2 M-9.2 0 L9.2 18.4" stroke="#000" stroke-width="2.2"/></pattern></defs>
<path d="M1618.45 1337.1V1281.65H1661.05V1337.1" fill="url(#p15)" stroke="#000" stroke-width="3.7" stroke-linejoin="miter"/>
<line x1="1709.45" y1="1126" x2="1709.45" y2="1166.3" stroke="#000" stroke-width="3.5" stroke-linecap="butt"/>
<line x1="1697.75" y1="1126" x2="1721.15" y2="1126" stroke="#000" stroke-width="3.5" stroke-linecap="butt"/>
<path d="M1688.15 1337.1V1166.15H1730.75V1337.1" fill="#a0a0a0" stroke="#000" stroke-width="3.7" stroke-linejoin="miter"/>
<line x1="1778.85" y1="1228.3" x2="1778.85" y2="1258.6" stroke="#000" stroke-width="3.5" stroke-linecap="butt"/>
<line x1="1767.15" y1="1228.3" x2="1790.55" y2="1228.3" stroke="#000" stroke-width="3.5" stroke-linecap="butt"/>
<defs><pattern id="p16" x="1757.55" y="1258.45" width="7.44" height="13.91" patternUnits="userSpaceOnUse"><rect width="7.44" height="13.91" fill="#a8a8a8"/><circle cx="4.45" cy="0.85" r="1.22" fill="#1c1c1c"/><circle cx="0.73" cy="7.81" r="1.22" fill="#1c1c1c"/><circle cx="8.17" cy="7.81" r="1.22" fill="#1c1c1c"/><circle cx="4.45" cy="14.76" r="1.22" fill="#1c1c1c"/></pattern></defs>
<path d="M1757.55 1337.1V1258.45H1800.15V1337.1" fill="url(#p16)" stroke="#000" stroke-width="3.7" stroke-linejoin="miter"/>
<line x1="1848.55" y1="1139.3" x2="1848.55" y2="1177.3" stroke="#000" stroke-width="3.5" stroke-linecap="butt"/>
<line x1="1836.85" y1="1139.3" x2="1860.25" y2="1139.3" stroke="#000" stroke-width="3.5" stroke-linecap="butt"/>
<defs><pattern id="p17" x="1828.35" y="1177.7" width="14.03" height="14.03" patternUnits="userSpaceOnUse"><rect width="14.03" height="14.03" fill="#080808"/><rect x="0" y="0" width="6.1" height="6.1" fill="#adadad"/><rect x="7.01" y="7.01" width="6.1" height="6.1" fill="#adadad"/></pattern></defs>
<path d="M1827.25 1337.1V1177.15H1869.85V1337.1" fill="url(#p17)" stroke="#000" stroke-width="3.7" stroke-linejoin="miter"/>
<line x1="1444" y1="1337.1" x2="1896" y2="1337.1" stroke="#000" stroke-width="3.4" stroke-linecap="round"/>
<line x1="1454.7" y1="918.7" x2="1454.7" y2="1338.8" stroke="#000" stroke-width="3.4" stroke-linecap="butt"/>
<line x1="1444.2" y1="1337.1" x2="1454.7" y2="1337.1" stroke="#000" stroke-width="3.4" stroke-linecap="round"/>
<text class="sf" x="1439.8" y="1348.1" font-size="30" text-anchor="end">0</text>
<line x1="1444.2" y1="1198.2" x2="1454.7" y2="1198.2" stroke="#000" stroke-width="3.4" stroke-linecap="round"/>
<text class="sf" x="1439.8" y="1209.2" font-size="30" text-anchor="end">2</text>
<line x1="1444.2" y1="1059.3" x2="1454.7" y2="1059.3" stroke="#000" stroke-width="3.4" stroke-linecap="round"/>
<text class="sf" x="1439.8" y="1070.3" font-size="30" text-anchor="end">4</text>
<line x1="1444.2" y1="920.4" x2="1454.7" y2="920.4" stroke="#000" stroke-width="3.4" stroke-linecap="round"/>
<text class="sf" x="1439.8" y="931.4" font-size="30" text-anchor="end">6</text>
<line x1="1499.7" y1="933.7" x2="1568" y2="933.7" stroke="#000" stroke-width="3.4" stroke-linecap="round"/>
<text class="ss" x="1535.3" y="935.43" font-size="62" text-anchor="middle" transform="matrix(1 0 0 0.9 0 93.54)">**</text>
<line x1="1572.4" y1="1107" x2="1705.6" y2="1107" stroke="#000" stroke-width="3.4" stroke-linecap="round"/>
<text class="ss" x="1639.7" y="1112.43" font-size="62" text-anchor="middle" transform="matrix(1 0 0 0.9 0 111.24)">**</text>
<line x1="1714.7" y1="1088" x2="1782.3" y2="1088" stroke="#000" stroke-width="3.4" stroke-linecap="round"/>
<text class="ss" x="1749" y="1093.13" font-size="62" text-anchor="middle" transform="matrix(1 0 0 0.9 0 109.31)">**</text>
<text class="sf" x="1403" y="1128.7" font-size="33.7" text-anchor="middle" transform="rotate(-90 1403 1128.7)">Number of crossing</text>
</g>
</svg></body></html>
